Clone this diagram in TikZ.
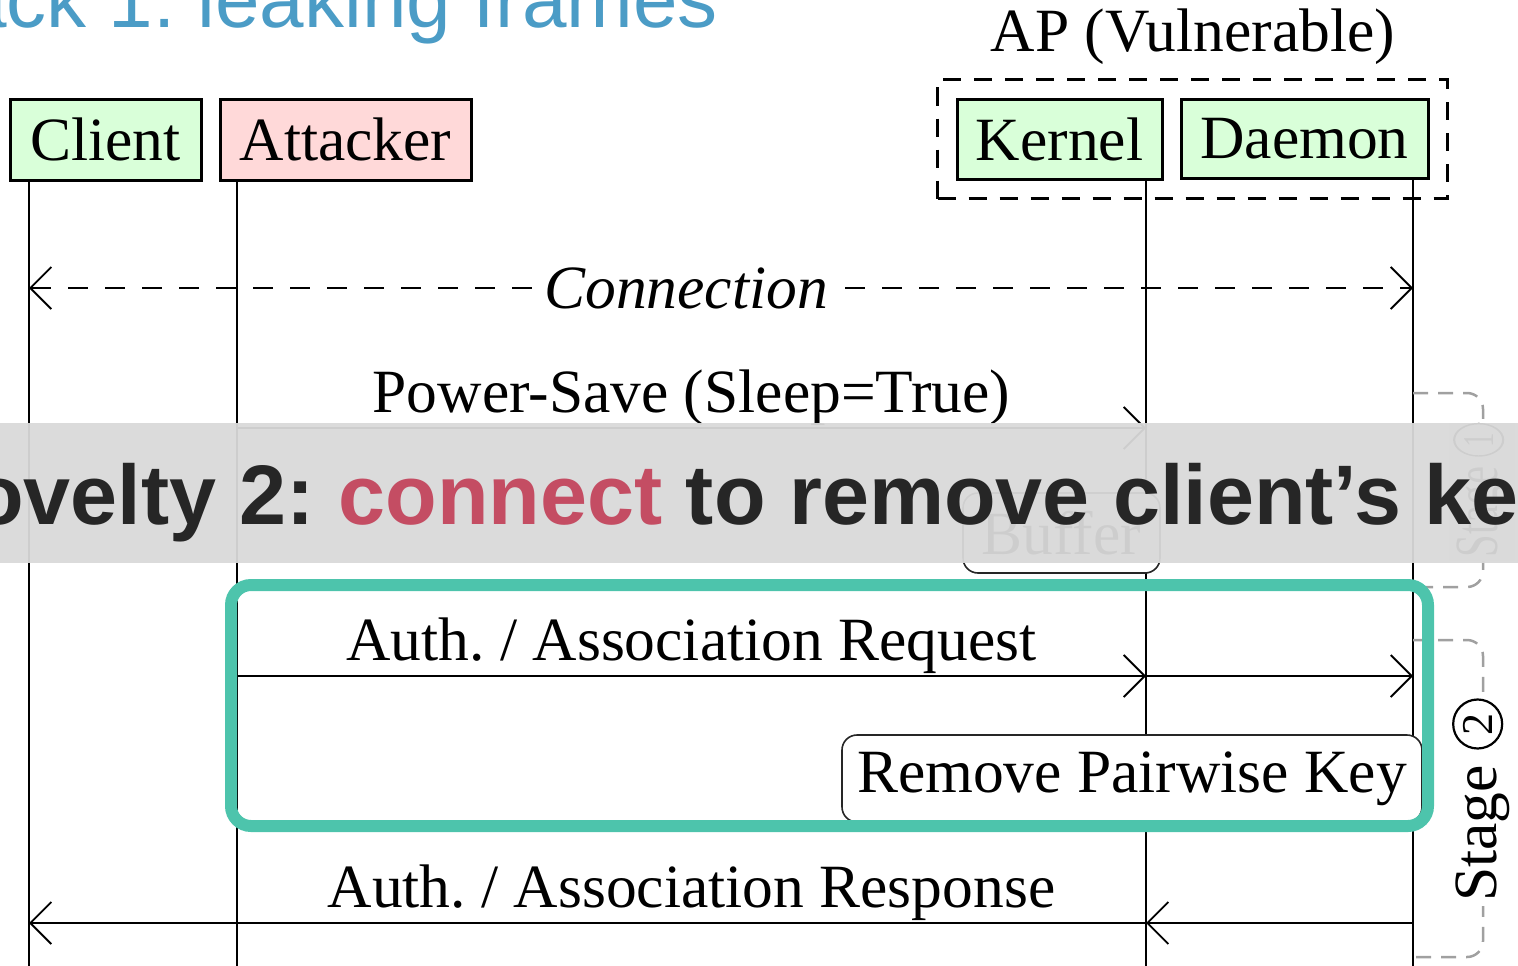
\documentclass[tikz,border=0pt]{standalone}
\usepackage{fontspec}
\usepackage{graphicx}
\setmainfont{Liberation Serif}
\setsansfont{Liberation Sans}
\usetikzlibrary{arrows.meta,fit}

\definecolor{actorgreen}{RGB}{217,255,217}
\definecolor{actorpink}{RGB}{255,217,217}
\definecolor{novteal}{RGB}{77,196,172}
\definecolor{stagegray}{RGB}{160,160,160}
\definecolor{bannergray}{RGB}{217,217,217}
\definecolor{bannertext}{RGB}{38,38,38}
\definecolor{connectred}{RGB}{196,77,99}
\definecolor{titleblue}{RGB}{75,156,198}

% circled stage number
\newcommand\stagenum[1]{\tikz[baseline={([yshift=-19pt]sn.center)}]
  \node[circle,draw,line width=2.2pt,minimum size=49pt,inner sep=0pt,
        font=\fontsize{44}{44}\selectfont] (sn) {#1};}

\begin{document}
\frenchspacing
\begin{tikzpicture}[x=1pt,y=-1pt,
  font=\fontsize{61.5}{72}\selectfont,
  >={Straight Barb[length=21pt,width=42pt,line width=1.8pt]},
  actorbox/.style={draw,line width=3pt,inner sep=0pt,minimum height=81pt},
  lifeline/.style={line width=2.8pt},
  msgarrow/.style={line width=2.8pt,->},
  notebox/.style={draw=black!85,line width=1.6pt,rounded corners=15pt,fill=white,inner sep=0pt},
  stagebracket/.style={draw=stagegray,line width=2.5pt,dash pattern=on 15pt off 10pt,rounded corners=16pt},
  stagelabel/.style={rotate=90,fill=white,inner sep=4pt}]

\useasboundingbox (0,0) rectangle (1518,966);
\clip (0,0) rectangle (1518,966);

% slide title
\node[anchor=base west,text=titleblue,inner sep=0pt,
      font=\sffamily\fontsize{80}{90}\selectfont] (title) at (-136,28) {Attack 1: leaking frames};

% participants
\node[actorbox,fill=actorgreen,minimum width=191pt] (client)   at (105.5,139.5) {Client};
\node[actorbox,fill=actorpink, minimum width=251pt] (attacker) at (345.5,139.5) {Attacker};
\node[actorbox,fill=actorgreen,minimum width=205pt,minimum height=80pt] (kernel) at (1059.5,139) {Kernel};
\node[actorbox,fill=actorgreen,minimum width=247pt,minimum height=79pt] (daemon) at (1304.5,138.5) {Daemon};

\node[draw,line width=3pt,dash pattern=on 18pt off 13pt,fit=(kernel)(daemon),inner sep=18pt] (ap) {};
\node[anchor=base] (aplabel) at (1193,52) {AP (Vulnerable)};

% lifelines
\coordinate (clientL)   at (29,966);
\coordinate (attackerL) at (237,966);
\coordinate (kernelL)   at (1146,966);
\coordinate (daemonL)   at (1413,966);
\draw[lifeline] (client.south -| clientL) -- (clientL);
\draw[lifeline] (attacker.south -| attackerL) -- (attackerL);
\draw[lifeline] (kernel.south -| kernelL) -- (kernelL);
\draw[lifeline] (daemon.south -| daemonL) -- (daemonL);

% connection
\coordinate (conC) at (29,288);
\coordinate (conD) at (1413,288);
\draw[line width=2.8pt,dash pattern=on 20pt off 17pt,<->] (conC) -- (conD);
\node[fill=white,inner xsep=10pt,inner ysep=4pt,font=\fontsize{61.5}{72}\selectfont\itshape] (conn) at (686,288) {Connection};

% power-save frame
\coordinate (psA) at (237,428);
\coordinate (psK) at (1146,428);
\draw[msgarrow] (psA) -- (psK);
\node[anchor=base] (pslabel) at (691.5,412) {Power-Save (Sleep=True)};

\node[notebox,minimum width=197pt,minimum height=80pt] (buffer) at (1061.5,533) {Buffer};

% association request
\coordinate (rqA) at (237,676);
\coordinate (rqK) at (1146,676);
\coordinate (rqD) at (1413,676);
\draw[msgarrow] (rqA) -- (rqK);
\draw[msgarrow] (rqK) -- (rqD);
\node[anchor=base] (rqlabel) at (691.5,660) {Auth. / Association Request};

\node[notebox,minimum width=580pt,minimum height=87pt] (rmkey) at (1132,778.5) {Remove Pairwise Key};

% association response
\coordinate (rsD) at (1413,923);
\coordinate (rsK) at (1146,923);
\coordinate (rsC) at (29,923);
\draw[msgarrow] (rsD) -- (rsK);
\draw[msgarrow] (rsK) -- (rsC);
\node[anchor=base] (rslabel) at (691.5,907) {Auth. / Association Response};

% stage brackets
\draw[stagebracket] (1413,393) -- (1483,393) -- (1483,587) -- (1413,587);
\node[stagelabel] (stage1) at (1482,490) {\scalebox{0.66}[1]{Stage \stagenum{1}}};
\draw[stagebracket] (1413,640) -- (1483,640) -- (1483,957) -- (1413,957);
\node[stagelabel] (stage2) at (1481,800) {Stage \stagenum{2}};

% highlighted part
\node[draw=novteal,line width=12pt,rounded corners=20pt,minimum width=1197pt,minimum height=241pt,inner sep=0pt] (focus) at (829.5,705.5) {};

% caption banner
\node[fill=bannergray,fill opacity=0.95,minimum width=1530pt,minimum height=140pt,inner sep=0pt] (banner) at (759,493) {};
\node[anchor=base west,text=bannertext,inner sep=0pt,
      font=\sffamily\bfseries\fontsize{84.5}{96}\selectfont] (novelty) at (-89,524)
  {Novelty 2: \textcolor{connectred}{connect} to remove client’s key};
\end{tikzpicture}
\end{document}
